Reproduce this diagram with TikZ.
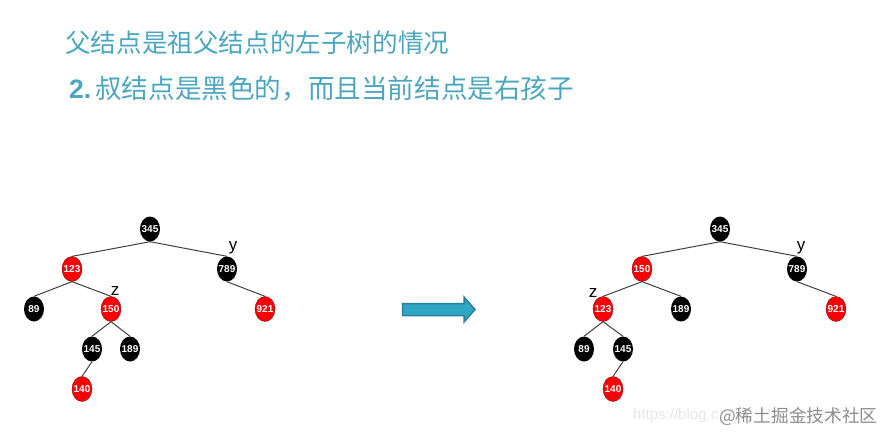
\documentclass[tikz,border=0pt]{standalone}
\usepackage{fontspec}
\setmainfont{Liberation Sans}
\newfontfamily\cjk{Noto Sans CJK SC}
\usetikzlibrary{shapes.geometric}
\definecolor{titleteal}{HTML}{4DA6BF}
\definecolor{arrowfill}{HTML}{31A6C4}
\definecolor{arrowline}{HTML}{2A7F9E}
\definecolor{treered}{HTML}{FA0007}
\definecolor{edgegray}{HTML}{404040}
\definecolor{markgray}{HTML}{8C8C8C}
\definecolor{urlgray}{HTML}{E6E6E6}
\tikzset{
  tn/.style={ellipse,minimum width=20pt,minimum height=25pt,inner xsep=-2.5pt,inner ysep=0pt,text=white,font=\bfseries\fontsize{10}{11}\selectfont},
  blk/.style={tn,fill=black},
  rd/.style={tn,fill=treered,draw=black!60!red,line width=.3pt},
  edge/.style={draw=edgegray,line width=1pt},
  lab/.style={inner sep=0pt,font=\fontsize{17}{18}\selectfont},
  ttl/.style={anchor=west,inner sep=0pt,text=titleteal,font=\cjk\fontsize{25.6}{28}\selectfont},
}
\begin{document}
\begin{tikzpicture}[x=1pt,y=-1pt]
\useasboundingbox (0,0) rectangle (885,434);
\node[ttl] (t1) at (65,42.5) {父结点是祖父结点的左子树的情况};
\node[ttl,font=\cjk\fontsize{26.6}{28}\selectfont] (t2) at (69,89) {{\fontspec{Liberation Sans}\bfseries 2.}\kern4pt 叔结点是黑色的，而且当前结点是右孩子};
% left tree
\node[blk] (a345) at (150,229) {345};
\node[rd]  (a123) at (72,269) {123};
\node[blk] (a789) at (227,269) {789};
\node[blk] (a89)  at (34,309) {89};
\node[rd]  (a150) at (111,309) {150};
\node[rd]  (a921) at (265,309) {921};
\node[blk] (a145) at (92,349) {145};
\node[blk] (a189) at (130,349) {189};
\node[rd]  (a140) at (82,389) {140};
\foreach \p/\c in {a345/a123,a345/a789,a123/a89,a123/a150,a789/a921,a150/a145,a150/a189,a145/a140}
  \draw[edge] (\p.south) -- (\c.north);
\node[lab] (ay) at (233,248) {y};
\node[lab] (az) at (115,291) {z};
% right tree
\node[blk] (b345) at (720,229) {345};
\node[rd]  (b150) at (642,269) {150};
\node[blk] (b789) at (797,269) {789};
\node[rd]  (b123) at (603,309) {123};
\node[blk] (b189) at (681,309) {189};
\node[rd]  (b921) at (836,309) {921};
\node[blk] (b89)  at (584,349) {89};
\node[blk] (b145) at (623,349) {145};
\node[rd]  (b140) at (613,389) {140};
\foreach \p/\c in {b345/b150,b345/b789,b150/b123,b150/b189,b789/b921,b123/b89,b123/b145,b145/b140}
  \draw[edge] (\p.south) -- (\c.north);
\node[lab] (by) at (801,248) {y};
\node[lab] (bz) at (593,293) {z};
% block arrow
\draw[draw=arrowline,fill=arrowfill,line width=1.5pt,line join=miter]
  (402.5,303.5) -- (464,303.5) -- (464,297) -- (475,309.5) -- (464,322) -- (464,315.5) -- (402.5,315.5) -- cycle;
% watermark
\node[anchor=west,inner sep=0pt,text=urlgray,font=\fontsize{15}{16}\selectfont] (url) at (633,416) {https://blog.c};
\node[anchor=west,inner sep=0pt,text=markgray,font=\cjk\fontsize{17.7}{18}\selectfont] (mark) at (719,417) {@稀土掘金技术社区};
\end{tikzpicture}
\end{document}
